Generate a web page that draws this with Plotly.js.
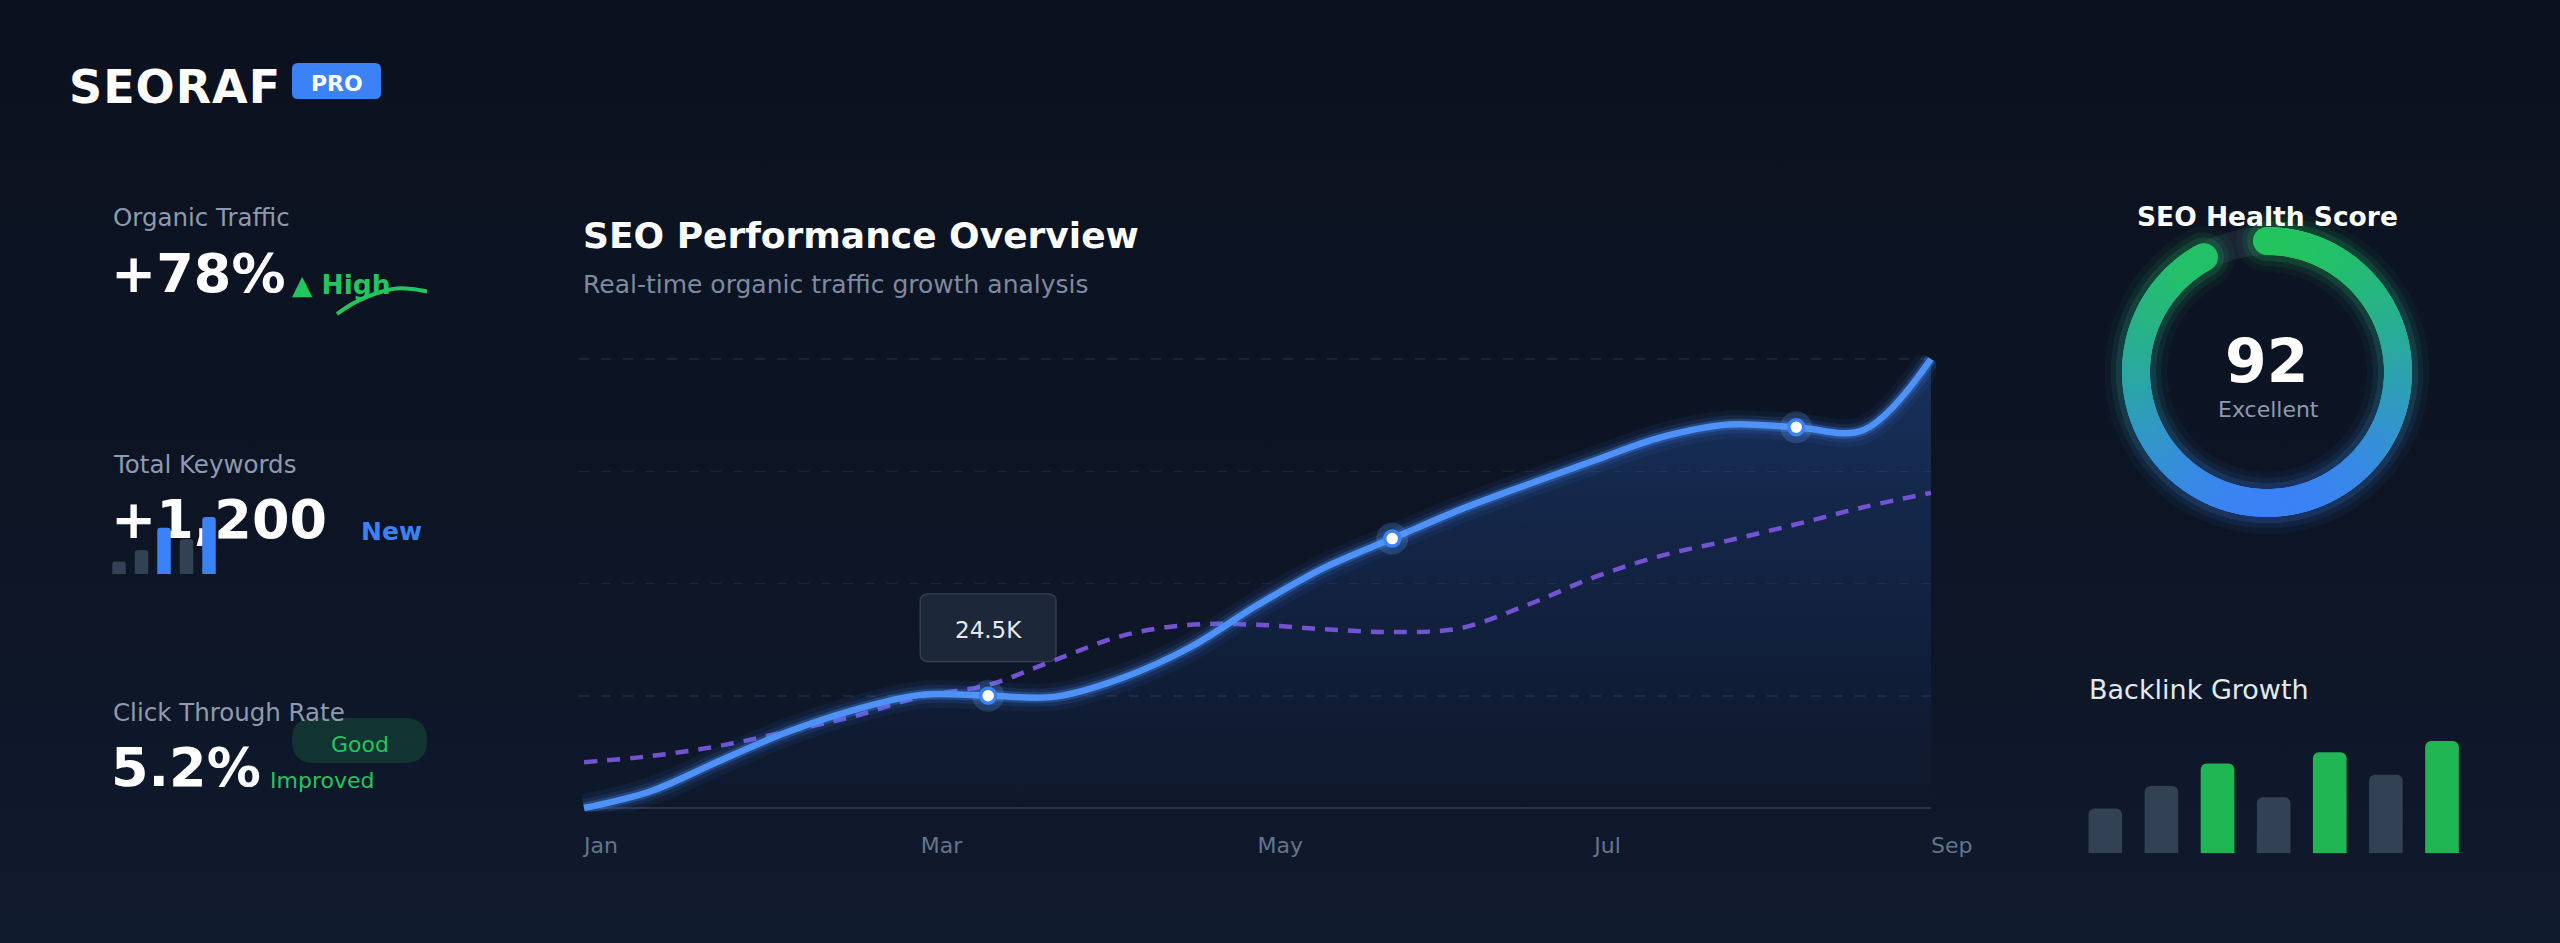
<!DOCTYPE html>
<html>
<head>
<meta charset="utf-8">
<title>SEORAF PRO – SEO dashboard</title>
<script src="https://cdn.plot.ly/plotly-3.0.1.min.js"></script>
<style>
  html, body { margin: 0; padding: 0; width: 2560px; height: 943px; overflow: hidden;
    background: linear-gradient(180deg, #0b111e 0%, #0d1525 55%, #101a2d 100%); }
  #dash { width: 2560px; height: 943px; }
</style>
</head>
<body>
<div id="dash"></div>
<script>
// ---------------- data ----------------
const monthTicks = [0, 2, 4, 6, 8];
const monthLabels = ['Jan', 'Mar', 'May', 'Jul', 'Sep'];
// sample positions, in months after Jan
const samplePos = [0, 0.4, 0.8, 1.2, 1.6, 2.0, 2.4, 2.8, 3.2, 3.6, 4.0, 4.4, 4.8, 5.2, 5.6, 6.0, 6.4, 6.8, 7.2, 7.6, 8.0];
// organic traffic (K visits)
const organicTraffic = [12.0, 13.9, 17.2, 20.4, 22.9, 24.6, 24.5, 24.4, 26.5, 29.9, 34.6, 38.8, 42.0, 45.2, 48.0, 50.7, 53.3, 54.7, 54.4, 54.1, 62.0];
// previous-period comparison (K visits)
const previousTraffic = [17.1, 17.8, 18.9, 20.5, 22.2, 24.4, 25.7, 28.5, 31.2, 32.4, 32.4, 31.9, 31.6, 32.0, 34.6, 37.7, 40.1, 41.8, 43.6, 45.5, 47.1];
const highlightIdx = [6, 12, 18];
const tooltipIdx = 6;
const gridLevels = [24.5, 37, 49.5, 62];

const kpiLabels = ['Organic Traffic', 'Total Keywords', 'Click Through Rate'];
const kpiValues = ['+78%', '+1,200', '5.2%'];
const trafficSpark = [6, 16, 23, 28.5, 31.5, 31, 28.5];
const keywordBars = [22, 42, 81, 61, 100];
const keywordHighlight = [false, false, true, false, true];

const healthScore = 92;
const healthLabel = 'Excellent';

const backlinkValues = [40, 60, 80, 50, 90, 70, 100];
const backlinkHighlight = [false, false, true, false, true, false, true];

// ---------------- helpers ----------------
const W = 2560, H = 943;
const fx = p => p / W;
const fy = p => 1 - p / H;
const FONT = 'DejaVu Sans';
const BLUE = '#3b82f6', GREEN = '#22c55e', SLATE = '#334155', MUTED = '#8e9ab0';

function roundRectPaper(x0, y0, x1, y1, r) {
  const X = v => fx(v).toFixed(6), Y = v => fy(v).toFixed(6);
  return `M${X(x0 + r)},${Y(y0)} L${X(x1 - r)},${Y(y0)} Q${X(x1)},${Y(y0)} ${X(x1)},${Y(y0 + r)} ` +
         `L${X(x1)},${Y(y1 - r)} Q${X(x1)},${Y(y1)} ${X(x1 - r)},${Y(y1)} L${X(x0 + r)},${Y(y1)} ` +
         `Q${X(x0)},${Y(y1)} ${X(x0)},${Y(y1 - r)} L${X(x0)},${Y(y0 + r)} Q${X(x0)},${Y(y0)} ${X(x0 + r)},${Y(y0)} Z`;
}
function roundRectPixel(x0, y0, x1, y1, r) {
  return `M${x0 + r},${y0} L${x1 - r},${y0} Q${x1},${y0} ${x1},${y0 + r} L${x1},${y1 - r} ` +
         `Q${x1},${y1} ${x1 - r},${y1} L${x0 + r},${y1} Q${x0},${y1} ${x0},${y1 - r} L${x0},${y0 + r} ` +
         `Q${x0},${y0} ${x0 + r},${y0} Z`;
}
// text placed by its cap-height centre, in canvas pixels
function label(text, x, y, size, color, opts) {
  const o = opts || {};
  return {
    text: text, x: fx(x), y: fy(y + 2.5), xref: 'paper', yref: 'paper',
    xanchor: o.xanchor || 'left', yanchor: 'middle', showarrow: false,
    font: { family: FONT, size: size, color: color, weight: o.bold ? 'bold' : 'normal' }
  };
}

// ---------------- gauge geometry ----------------
const arcSpan = healthScore / 100 * 360;
const arcTheta = [];
for (let a = 0; a < arcSpan; a += 0.75) arcTheta.push(a);
arcTheta.push(arcSpan);
const arcR = arcTheta.map(() => 131);
const arcShade = arcTheta.map(a => Math.cos(a * Math.PI / 180));
const ringScale = [[0, '#3b82f6'], [0.5, '#2ba6a6'], [1, '#22c55e']];

function ringLayer(size, opacity) {
  return { type: 'scatterpolar', r: arcR, theta: arcTheta, mode: 'markers', subplot: 'polar', opacity: opacity,
    marker: { size: size, color: arcShade, colorscale: ringScale, cmin: -1, cmax: 1, line: { width: 0 } },
    hoverinfo: 'skip' };
}
function trafficLine(color, width) {
  return { x: samplePos, y: organicTraffic, type: 'scatter', mode: 'lines',
    line: { color: color, width: width, shape: 'spline' }, hoverinfo: 'skip' };
}

const hl = highlightIdx.map(i => samplePos[i]);
const hlY = highlightIdx.map(i => organicTraffic[i]);

// ---------------- traces ----------------
const traces = [
  // area under traffic curve
  { x: samplePos, y: organicTraffic, type: 'scatter', mode: 'lines',
    line: { width: 0, shape: 'spline' }, fill: 'tozeroy',
    fillgradient: { type: 'vertical', start: 12, stop: 62,
      colorscale: [[0, 'rgba(37,99,235,0)'], [1, 'rgba(59,130,246,0.27)']] },
    hoverinfo: 'skip' },
  // previous period, dashed
  { x: samplePos, y: previousTraffic, type: 'scatter', mode: 'lines',
    line: { color: '#7453d3', width: 4.5, dash: '13px,10px', shape: 'spline' }, hoverinfo: 'skip' },
  // traffic glow + line
  trafficLine('rgba(59,130,246,0.07)', 28),
  trafficLine('rgba(59,130,246,0.13)', 18),
  trafficLine('rgba(80,150,250,0.25)', 11),
  trafficLine('#4e92f7', 6.5),
  // highlighted points
  { x: hl, y: hlY, type: 'scatter', mode: 'markers', cliponaxis: false,
    marker: { size: 32, color: 'rgba(96,165,250,0.22)' }, hoverinfo: 'skip' },
  { x: hl, y: hlY, type: 'scatter', mode: 'markers', cliponaxis: false,
    marker: { size: 15, color: '#ffffff', line: { color: BLUE, width: 3.5 } }, hoverinfo: 'skip' },

  // KPI values (full-canvas pixel space)
  { x: [111, 111, 111], y: [278, 524.5, 772.4], xaxis: 'x2', yaxis: 'y2',
    type: 'scatter', mode: 'text', text: kpiValues, textposition: 'middle right',
    textfont: { family: FONT, size: 54, color: '#ffffff', weight: 700 },
    cliponaxis: false, hoverinfo: 'skip' },

  // keyword mini bars
  { x: keywordBars.map((_, i) => i), y: keywordBars, xaxis: 'x3', yaxis: 'y3', type: 'bar',
    marker: { color: keywordHighlight.map(h => h ? BLUE : SLATE), cornerradius: 3, line: { width: 0 } },
    hoverinfo: 'skip' },

  // organic traffic sparkline
  { x: trafficSpark.map((_, i) => i), y: trafficSpark, xaxis: 'x4', yaxis: 'y4',
    type: 'scatter', mode: 'lines', line: { color: GREEN, width: 4, shape: 'spline' },
    hoverinfo: 'skip' },

  // backlink growth bars
  { x: backlinkValues.map((_, i) => i), y: backlinkValues, xaxis: 'x5', yaxis: 'y5', type: 'bar',
    marker: { color: backlinkHighlight.map(h => h ? '#1fb653' : SLATE), cornerradius: 6, line: { width: 0 } },
    hoverinfo: 'skip' },

  // health score ring: track, glow, progress
  { type: 'barpolar', r: [28], base: [117], theta: [0], width: [360], subplot: 'polar',
    marker: { color: '#1b2435', line: { width: 0 } }, hoverinfo: 'skip' },
  ringLayer(62, 0.05),
  ringLayer(50, 0.09),
  ringLayer(40, 0.16),
  ringLayer(28, 1)
];

// ---------------- layout ----------------
const hidden = { visible: false, fixedrange: true };
const layout = {
  width: W, height: H,
  margin: { l: 0, r: 0, t: 0, b: 0, pad: 0 },
  paper_bgcolor: 'rgba(0,0,0,0)', plot_bgcolor: 'rgba(0,0,0,0)',
  showlegend: false, bargap: 0.4,
  font: { family: FONT, color: '#ffffff' },

  xaxis: { domain: [fx(579), fx(1936)], range: [-0.03, 8.03], tickvals: monthTicks, ticktext: monthLabels,
    showgrid: false, zeroline: false, showline: false, ticks: '',
    ticklabelposition: 'outside right', ticklabelstandoff: 18,
    tickfont: { family: FONT, size: 22, color: '#64748b' }, fixedrange: true },
  yaxis: { domain: [fy(811.6), fy(355.4)], range: [11.6, 62.4], tickvals: gridLevels,
    showticklabels: false, showgrid: true, gridcolor: 'rgba(148,163,184,0.11)', gridwidth: 1.5,
    griddash: '10px,12px', zeroline: false, showline: false, fixedrange: true },

  xaxis2: Object.assign({ domain: [0, 1], range: [0, W] }, hidden),
  yaxis2: Object.assign({ domain: [0, 1], range: [H, 0] }, hidden),

  xaxis3: Object.assign({ domain: [fx(107.75), fx(220.25)], range: [-0.5, 4.5], anchor: 'y3' }, hidden),
  yaxis3: Object.assign({ domain: [fy(574), fy(517)], range: [0, 100], anchor: 'x3' }, hidden),

  xaxis4: Object.assign({ domain: [fx(334), fx(430)], range: [-0.2, 6.2], anchor: 'y4' }, hidden),
  yaxis4: Object.assign({ domain: [fy(322), fy(278)], range: [-2, 42], anchor: 'x4' }, hidden),

  xaxis5: Object.assign({ domain: [fx(2077.25), fx(2470.05)], range: [-0.5, 6.5], anchor: 'y5' }, hidden),
  yaxis5: Object.assign({ domain: [fy(853.3), fy(741)], range: [0, 100], anchor: 'x5' }, hidden),

  polar: {
    domain: { x: [fx(2107), fx(2427)], y: [fy(532), fy(212)] },
    bgcolor: 'rgba(0,0,0,0)', hole: 0,
    radialaxis: { range: [0, 160], visible: false },
    angularaxis: { rotation: 90, direction: 'clockwise', visible: false }
  },

  shapes: [
    // PRO badge
    { type: 'path', xref: 'paper', yref: 'paper', path: roundRectPaper(292, 63, 381, 99, 6),
      fillcolor: BLUE, line: { width: 0 } },
    // "Good" pill
    { type: 'path', xref: 'paper', yref: 'paper', path: roundRectPaper(292, 718, 427, 763, 22.5),
      fillcolor: 'rgba(34,197,94,0.17)', line: { width: 0 } },
    // chart baseline
    { type: 'line', xref: 'x', yref: 'y', x0: 0, x1: 8, y0: 12, y1: 12,
      line: { color: '#2a3446', width: 2 }, layer: 'below' },
    // value tooltip box
    { type: 'path', xref: 'x', yref: 'y', xsizemode: 'pixel', ysizemode: 'pixel',
      xanchor: samplePos[tooltipIdx], yanchor: organicTraffic[tooltipIdx],
      path: roundRectPixel(-68, 34, 68, 102, 8),
      fillcolor: 'rgba(30,41,59,0.94)', line: { color: 'rgba(148,163,184,0.22)', width: 1.5 }, layer: 'above' }
  ],

  annotations: [
    label('SEORAF', 70, 84.5, 46, '#ffffff', { bold: true }),
    label('PRO', 336.5, 81, 22, '#ffffff', { xanchor: 'center', bold: true }),

    label(kpiLabels[0], 111, 215.4, 24.5, MUTED),
    label('▲ High', 290, 282, 26.5, GREEN, { bold: true }),
    label(kpiLabels[1], 111, 462, 24.5, MUTED),
    label('New', 359, 529, 25, BLUE, { bold: true }),
    label(kpiLabels[2], 111, 709.5, 24.5, MUTED),
    label('Good', 359.5, 741.5, 22, GREEN, { xanchor: 'center' }),
    label('Improved', 268, 777.5, 22, GREEN),

    label('SEO Performance Overview', 581, 233.4, 36, '#ffffff', { bold: true }),
    label('Real-time organic traffic growth analysis', 581, 281.5, 25, '#7d8aa0'),

    { text: organicTraffic[tooltipIdx].toFixed(1) + 'K', x: samplePos[tooltipIdx], y: organicTraffic[tooltipIdx],
      xref: 'x', yref: 'y', yshift: 66, showarrow: false, xanchor: 'center', yanchor: 'middle',
      font: { family: FONT, size: 23, color: '#e5e9f0' } },

    label('SEO Health Score', 2267.5, 213.5, 26.5, '#ffffff', { xanchor: 'center', bold: true }),
    label(String(healthScore), 2267, 359, 60, '#ffffff', { xanchor: 'center', bold: true }),
    label(healthLabel, 2268, 407.5, 22, MUTED, { xanchor: 'center' }),

    label('Backlink Growth', 2087, 686.5, 27, '#e2e8f0')
  ]
};

Plotly.newPlot('dash', traces, layout, { staticPlot: true, displayModeBar: false }).then(function (gd) {
  // wordmark tracking
  gd.querySelectorAll('.annotation-text').forEach(function (t) {
    if (t.textContent === 'SEORAF') t.style.letterSpacing = '1px';
  });
});
</script>
</body>
</html>
